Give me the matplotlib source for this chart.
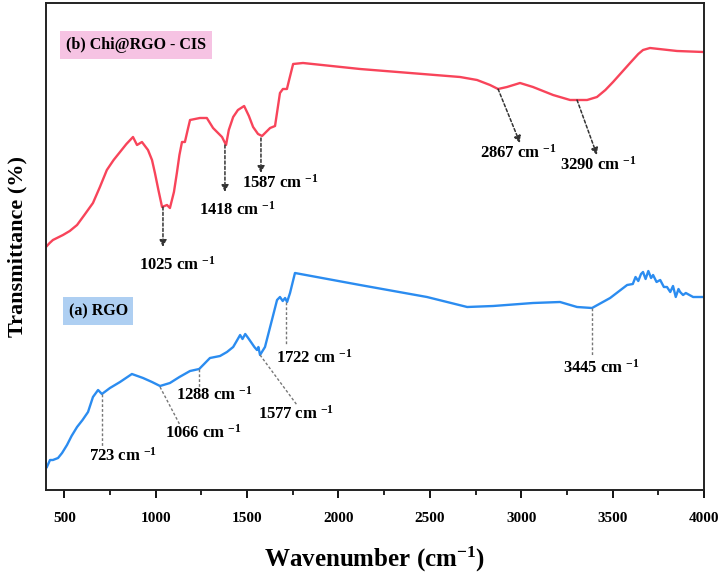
import numpy as np
import matplotlib
matplotlib.use("Agg")
import matplotlib.pyplot as plt

plt.rcParams['font.family'] = ['Liberation Serif', 'DejaVu Serif']
plt.rcParams['font.weight'] = 'bold'
plt.rcParams['mathtext.fontset'] = 'custom'
plt.rcParams['mathtext.rm'] = 'Liberation Serif:bold'
plt.rcParams['mathtext.it'] = 'Liberation Serif:bold'
plt.rcParams['mathtext.bf'] = 'Liberation Serif:bold'

# (b) Chi@RGO - CIS
wn_b = [400, 420, 438, 460, 493, 530, 570, 610, 657, 695, 733, 770, 805, 840, 876, 898, 925,
        958, 980, 996, 1015, 1035, 1062, 1078, 1100, 1116, 1130, 1144, 1160, 1175, 1188,
        1242, 1280, 1314, 1363, 1385, 1400, 1424, 1450, 1484, 1510, 1533, 1560, 1582,
        1626, 1653, 1680, 1696, 1718, 1730, 1752, 1806, 2118, 2665, 2758, 2829, 2873,
        2922, 2993, 3064, 3174, 3267, 3360, 3414, 3460, 3502, 3595, 3640, 3666, 3704,
        3852, 3995]
tr_b = [243, 247, 250, 252, 255, 259, 265, 275, 287, 303, 320, 330, 338, 346, 353, 345, 348,
        340, 330, 317, 300, 283, 285, 282, 298, 317, 335, 348, 348, 360, 370,
        372, 372, 362, 353, 345, 360, 373, 380, 384, 374, 363, 356, 354,
        362, 364, 397, 401, 401, 410, 426, 427, 421, 413, 410, 405, 401,
        403, 407, 403, 395, 390, 390, 393, 400, 408, 427, 436, 440, 442,
        439, 438]

# (a) RGO
wn_a = [405, 422, 438, 466, 488, 515, 540, 570, 600, 630, 657, 685, 706, 750, 805, 870, 931,
        980, 1024, 1078, 1130, 1188, 1238, 1265, 1297, 1352, 1390, 1424, 1440, 1462, 1475,
        1490, 1506, 1525, 1540, 1554, 1562, 1571, 1598, 1636, 1664, 1680, 1695, 1708, 1719,
        1735, 1762, 2118, 2484, 2704, 2846, 3064, 3212, 3305, 3387, 3486, 3579, 3610,
        3625, 3640, 3655, 3666, 3680, 3695, 3710, 3721, 3740, 3760, 3780, 3797, 3815,
        3830, 3845, 3860, 3869, 3885, 3900, 3940, 3995]
tr_a = [23, 30, 30, 32, 37, 45, 54, 63, 70, 78, 93, 100, 96, 102, 108, 116, 112,
        108, 104, 107, 113, 119, 121, 126, 132, 134, 138, 143, 148, 155, 151,
        156, 152, 147, 143, 140, 143, 135, 143, 170, 190, 193, 189, 192, 188,
        197, 217, 205, 193, 183, 184, 187, 188, 183, 182, 192, 205, 206,
        213, 209, 216, 218, 211, 219, 212, 215, 208, 210, 203, 203, 198,
        204, 193, 201, 198, 195, 197, 193, 193]

# red arrows: (label, start, end, text pos)
peaks_b = [("1025", (1040, 283), (1040, 243), (1117, 225)),
           ("1418", (1379, 345), (1379, 298), (1445, 280)),
           ("1587", (1576, 352), (1576, 317), (1680, 307)),
           ("2867", (2873, 401), (2993, 347), (2982, 337)),
           ("3290", (3305, 390), (3414, 335), (3420, 325))]
# blue guide lines
peaks_a = [("723", (706, 96), (706, 43), (821, 34)),
           ("1066", (1024, 103), (1133, 65), (1259, 57)),
           ("1288", (1237, 121), (1237, 103), (1319, 95)),
           ("1577", (1571, 135), (1773, 85), (1768, 76)),
           ("1722", (1713, 188), (1713, 145), (1866, 132)),
           ("3445", (3387, 182), (3387, 135), (3436, 122))]

red = '#f8445a'
blue = '#2b8cf0'

fig = plt.figure(figsize=(7.24, 5.76), dpi=100)
ax = fig.add_axes([0.0635, 0.1493, 0.909, 0.8455])

ax.plot(wn_b, tr_b, color=red, lw=1.7)
ax.plot(wn_a, tr_a, color=blue, lw=1.7)

for lab, p0, p1, pt in peaks_b:
    ax.annotate('', xy=p1, xytext=p0,
                arrowprops=dict(arrowstyle='-|>', linestyle=(0, (2, 1.5)), color='#333333',
                                lw=1.1, mutation_scale=10, shrinkA=0, shrinkB=0))
    ax.text(pt[0], pt[1], lab + ' cm $^{-1}$', ha='center', va='center',
            fontsize=12, fontweight='bold')

for lab, p0, p1, pt in peaks_a:
    ax.plot([p0[0], p1[0]], [p0[1], p1[1]], color='#777777', lw=1.0, linestyle=(0, (2, 1.5)))
    ax.text(pt[0], pt[1], lab + ' cm $^{-1}$', ha='center', va='center',
            fontsize=12, fontweight='bold')

ax.text(892, 445, '(b) Chi@RGO - CIS', ha='center', va='center', fontsize=11.5,
        fontweight='bold', bbox=dict(boxstyle='square,pad=0.35', fc='#f6c3e3', ec='none'))
ax.text(685, 179, '(a) RGO', ha='center', va='center', fontsize=11.5,
        fontweight='bold', bbox=dict(boxstyle='square,pad=0.35', fc='#aecff2', ec='none'))

ax.set_xlim(400, 4000)
ax.set_ylim(0, 487)
ax.set_xticks(np.arange(500, 4001, 500))
ax.set_xticks(np.arange(750, 4000, 500), minor=True)
ax.set_yticks([])
ax.tick_params(axis='x', which='major', direction='out', length=6, width=1.3,
               labelsize=11, pad=10)
ax.tick_params(axis='x', which='minor', direction='out', length=3.5, width=1.2)
for s in ax.spines.values():
    s.set_linewidth(1.4)
    s.set_color('#222222')
for t in ax.get_xticklabels():
    t.set_fontweight('bold')

ax.set_xlabel('Wavenumber (cm$^{-1}$)', fontsize=18, fontweight='bold', labelpad=14)
ax.set_ylabel('Transmittance (%)', fontsize=16, fontweight='bold', labelpad=13)

fig.savefig('out.png', dpi=100)
